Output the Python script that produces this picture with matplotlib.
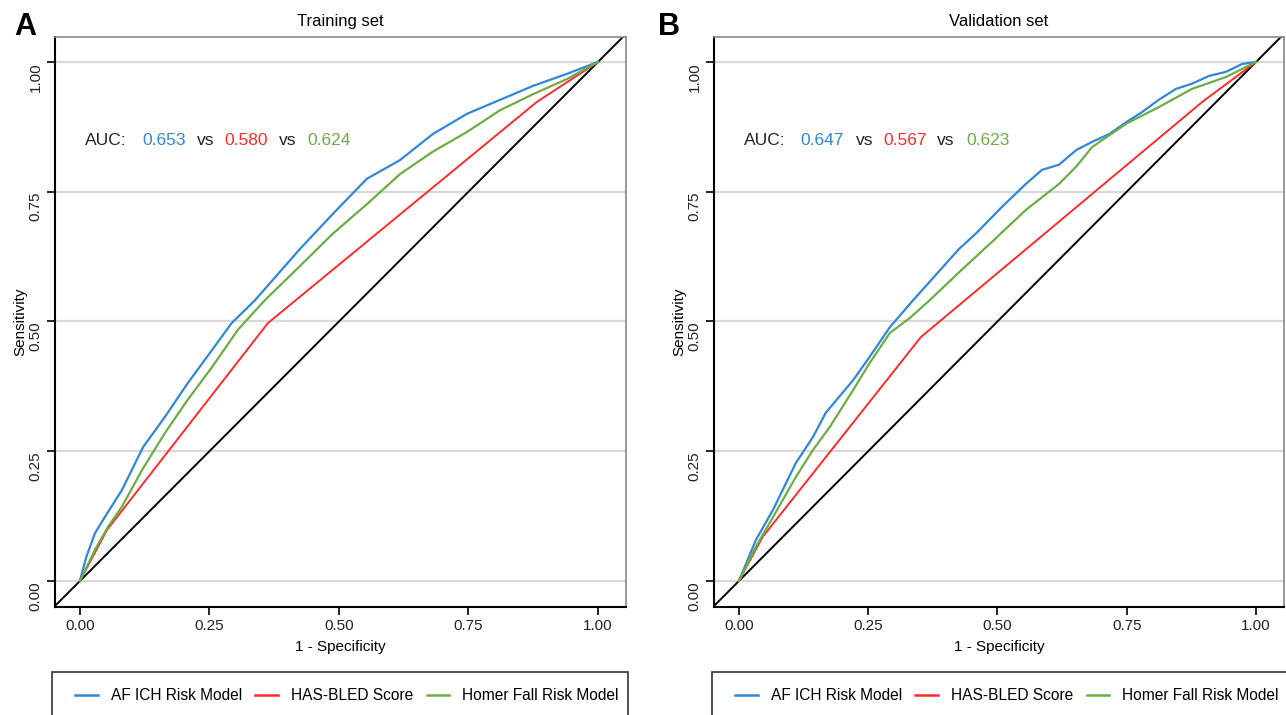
import matplotlib
matplotlib.use("Agg")
import matplotlib.pyplot as plt
from matplotlib.lines import Line2D
from matplotlib.patches import Rectangle

plt.rcParams['font.family'] = ['Liberation Sans', 'DejaVu Sans']

# ---------------- data ----------------
panel_titles = ["Training set", "Validation set"]
panel_letters = ["A", "B"]
series_names = ["AF ICH Risk Model", "HAS-BLED Score", "Homer Fall Risk Model"]
series_colors = ["#2F88DA", "#FF2A2A", "#6DAD45"]
auc_train = ["0.653", "0.580", "0.624"]
auc_valid = ["0.647", "0.567", "0.623"]
tick_vals = [0.0, 0.25, 0.5, 0.75, 1.0]
tick_labels = ["0.00", "0.25", "0.50", "0.75", "1.00"]

# Training set ROC curves (1 - specificity, sensitivity)
train_af_x = [0.0, 0.012, 0.029, 0.048, 0.081, 0.122, 0.164, 0.208, 0.255, 0.293, 0.338,
              0.425, 0.488, 0.554, 0.618, 0.681, 0.747, 0.811, 0.875, 0.940, 1.0]
train_af_y = [0.0, 0.045, 0.092, 0.123, 0.175, 0.258, 0.316, 0.381, 0.445, 0.497, 0.541,
              0.640, 0.707, 0.775, 0.811, 0.861, 0.900, 0.927, 0.954, 0.977, 1.0]
train_hb_x = [0.0, 0.052, 0.363, 0.882, 1.0]
train_hb_y = [0.0, 0.098, 0.497, 0.923, 1.0]
train_hf_x = [0.0, 0.029, 0.054, 0.081, 0.120, 0.164, 0.208, 0.255, 0.305, 0.357,
              0.425, 0.488, 0.554, 0.618, 0.681, 0.747, 0.811, 0.875, 0.940, 1.0]
train_hf_y = [0.0, 0.060, 0.104, 0.143, 0.214, 0.285, 0.349, 0.412, 0.484, 0.541,
              0.607, 0.669, 0.726, 0.784, 0.827, 0.865, 0.907, 0.938, 0.967, 1.0]

# Validation set ROC curves
valid_af_x = [0.0, 0.033, 0.066, 0.110, 0.143, 0.168, 0.221, 0.253, 0.292, 0.337,
              0.426, 0.458, 0.509, 0.555, 0.586, 0.619, 0.652, 0.683, 0.716, 0.749,
              0.779, 0.812, 0.845, 0.876, 0.909, 0.942, 0.973, 1.0]
valid_af_y = [0.0, 0.079, 0.137, 0.227, 0.277, 0.324, 0.387, 0.432, 0.489, 0.541,
              0.640, 0.669, 0.721, 0.765, 0.792, 0.802, 0.830, 0.846, 0.861, 0.884,
              0.903, 0.927, 0.948, 0.958, 0.973, 0.981, 0.996, 1.0]
valid_hb_x = [0.0, 0.046, 0.352, 0.896, 1.0]
valid_hb_y = [0.0, 0.085, 0.470, 0.923, 1.0]
valid_hf_x = [0.0, 0.033, 0.066, 0.110, 0.143, 0.176, 0.221, 0.253, 0.292, 0.331, 0.369,
              0.426, 0.489, 0.555, 0.619, 0.652, 0.683, 0.749, 0.812, 0.876, 0.942, 1.0]
valid_hf_y = [0.0, 0.066, 0.123, 0.200, 0.252, 0.297, 0.368, 0.420, 0.478, 0.507, 0.541,
              0.595, 0.653, 0.715, 0.765, 0.798, 0.836, 0.881, 0.913, 0.948, 0.971, 1.0]

panels = [
    [(train_af_x, train_af_y), (train_hb_x, train_hb_y), (train_hf_x, train_hf_y)],
    [(valid_af_x, valid_af_y), (valid_hb_x, valid_hb_y), (valid_hf_x, valid_hf_y)],
]
auc_sets = [auc_train, auc_valid]

# ---------------- figure ----------------
W, H = 1286, 715
fig = plt.figure(figsize=(W / 100, H / 100), dpi=100)

def fx(px):
    return px / W

def fy(py):
    return 1 - py / H

axes_px = [(55, 626), (714, 1284)]
legend_px = [(52, 628), (712, 1290)]
letter_px = [14, 658]

for i in range(2):
    l, r = axes_px[i]
    ax = fig.add_axes([fx(l), fy(607), fx(r) - fx(l), fy(37) - fy(607)])
    ax.set_xlim(-0.048, 1.054)
    ax.set_ylim(-0.05, 1.048)
    for yv in tick_vals:
        ax.axhline(yv, color="#D9D9D9", lw=1.6, zorder=0)
    ax.axline((0, 0), (1, 1), color="black", lw=1.4, zorder=2)
    for (xs, ys), c in zip(panels[i], series_colors):
        ax.plot(xs, ys, color=c, lw=1.6 if c != series_colors[1] else 1.4, zorder=3)
    ax.set_xticks(tick_vals)
    ax.set_xticklabels(tick_labels, fontsize=11, color="#222222")
    ax.set_yticks(tick_vals)
    ax.set_yticklabels(tick_labels, fontsize=11, color="#222222", rotation=90, va="top")
    ax.tick_params(direction="out", length=6, width=1.2, pad=3)
    for s in ["left", "bottom"]:
        ax.spines[s].set_color("black")
        ax.spines[s].set_linewidth(1.5)
    for s in ["top", "right"]:
        ax.spines[s].set_color("#888888")
        ax.spines[s].set_linewidth(1.2)
    ax.set_xlabel("1 - Specificity", fontsize=11, labelpad=5)
    ax.set_ylabel("Sensitivity", fontsize=11, labelpad=1)
    ax.set_title(panel_titles[i], fontsize=12, pad=8)

    # AUC annotation
    aucs = auc_sets[i]
    y_auc = 0.848
    x0 = 0.0097
    parts = [("AUC:", "#222222", 0.0), (aucs[0], series_colors[0], 0.110),
             ("vs", "#222222", 0.216), (aucs[1], series_colors[1], 0.270),
             ("vs", "#222222", 0.374), (aucs[2], series_colors[2], 0.430)]
    for txt, col, dx in parts:
        ax.text(x0 + dx, y_auc, txt, color=col, fontsize=12.5, va="center", ha="left")

    # panel letter
    fig.text(fx(letter_px[i]), fy(27), panel_letters[i], fontsize=22, fontweight="bold",
             va="center", ha="left")

    # legend box
    ll, lr = legend_px[i]
    rect = Rectangle((fx(ll), fy(730)), fx(lr) - fx(ll), fy(672) - fy(730),
                     transform=fig.transFigure, fill=False, edgecolor="#333333",
                     lw=1.2, clip_on=False)
    fig.add_artist(rect)
    handles = [Line2D([], [], color=c, lw=1.8) for c in series_colors]
    fig.legend(handles, series_names, loc="center left",
               bbox_to_anchor=(fx(ll + 20), fy(696)), ncol=3, frameon=False,
               fontsize=11.2, handlelength=1.45, handletextpad=0.85,
               columnspacing=0.85, borderaxespad=0, borderpad=0.2)

fig.savefig("out.png", dpi=100)
